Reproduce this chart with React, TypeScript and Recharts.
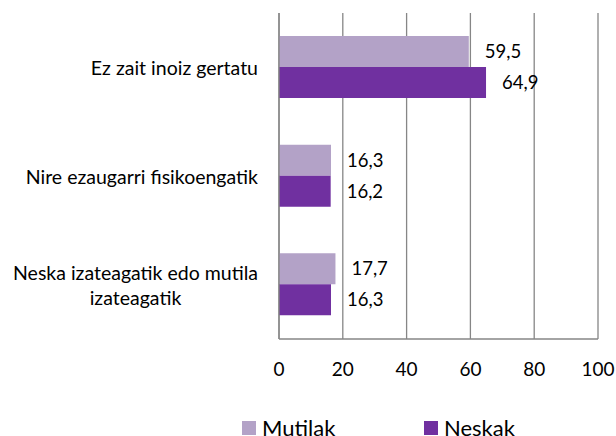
import { Bar, BarChart, CartesianGrid, LabelList, Legend, XAxis, YAxis } from 'recharts'

const categories = ['Ez zait inoiz gertatu', 'Nire ezaugarri fisikoengatik', 'Neska izateagatik edo mutila\nizateagatik']
const mutilak = [59.5, 16.3, 17.7]
const neskak = [64.9, 16.2, 16.3]
const xTicks = [0, 20, 40, 60, 80, 100]

const LIGHT = '#B3A2C7'
const DARK = '#7030A0'
const GRID = '#868686'
const FONT = 'Lato, sans-serif'

const data = categories.map((name, i) => ({ name, mutilak: mutilak[i], neskak: neskak[i] }))

const formatComma = (v: unknown) => (typeof v === 'number' ? v.toFixed(1).replace('.', ',') : String(v))

function CategoryTick(props: any) {
    const { x, y, payload } = props
    const lines = String(payload.value).split('\n')
    const h = 80
    return (
        <foreignObject x={0} y={y - h / 2} width={x} height={h}>
            <div
                style={{
                    display: 'flex',
                    justifyContent: 'flex-end',
                    alignItems: 'center',
                    height: '100%',
                    fontFamily: FONT,
                    fontSize: 19.5,
                    color: '#000',
                    lineHeight: '25px'
                }}
            >
                <div style={{ textAlign: 'center', whiteSpace: 'nowrap' }}>
                    {lines.map((l, i) => (
                        <div key={i}>{l}</div>
                    ))}
                </div>
            </div>
        </foreignObject>
    )
}

function LegendContent() {
    const items = [
        { label: 'Mutilak', color: LIGHT },
        { label: 'Neskak', color: DARK }
    ]
    return (
        <div style={{ position: 'relative', height: 0 }}>
            {items.map((item, i) => (
                <div
                    key={item.label}
                    style={{
                        position: 'absolute',
                        left: 242 + i * 182,
                        top: 0,
                        display: 'flex',
                        alignItems: 'flex-start',
                        fontFamily: FONT,
                        fontSize: 22,
                        lineHeight: '22px',
                        color: '#000',
                        whiteSpace: 'nowrap'
                    }}
                >
                    <span style={{ width: 14, height: 14, background: item.color, marginTop: 4, marginRight: 6 }} />
                    <span>{item.label}</span>
                </div>
            ))}
        </div>
    )
}

export default function App() {
    return (
        <div style={{ position: 'absolute', left: 0, top: 0, width: 616, height: 436, background: '#fff', overflow: 'hidden' }}>
            <BarChart
                width={616}
                height={436}
                data={data}
                layout="vertical"
                margin={{ top: 13, right: 18, bottom: 37, left: 0 }}
                barGap={0}
                barSize={31}
            >
                <CartesianGrid horizontal={false} stroke={GRID} strokeWidth={1.3} />
                <XAxis
                    type="number"
                    domain={[0, 100]}
                    ticks={xTicks}
                    height={60}
                    axisLine={{ stroke: GRID, strokeWidth: 1.3 }}
                    tickLine={false}
                    tickSize={0}
                    tickMargin={24}
                    tick={{ fill: '#000', fontSize: 19, fontFamily: FONT }}
                />
                <YAxis
                    type="category"
                    dataKey="name"
                    width={279}
                    axisLine={{ stroke: GRID, strokeWidth: 1.3 }}
                    tickLine={false}
                    tickSize={0}
                    tickMargin={21}
                    tick={<CategoryTick />}
                />
                <Legend
                    content={<LegendContent />}
                    wrapperStyle={{ position: 'absolute', left: 0, top: 417, width: 616, height: 0, overflow: 'visible' }}
                />
                <Bar dataKey="mutilak" name="Mutilak" fill={LIGHT} isAnimationActive={false}>
                    <LabelList
                        dataKey="mutilak"
                        position="right"
                        offset={16}
                        formatter={formatComma}
                        fill="#000"
                        fontSize={18.5}
                        fontFamily={FONT}
                    />
                </Bar>
                <Bar dataKey="neskak" name="Neskak" fill={DARK} isAnimationActive={false}>
                    <LabelList
                        dataKey="neskak"
                        position="right"
                        offset={16}
                        formatter={formatComma}
                        fill="#000"
                        fontSize={18.5}
                        fontFamily={FONT}
                    />
                </Bar>
            </BarChart>
        </div>
    )
}
